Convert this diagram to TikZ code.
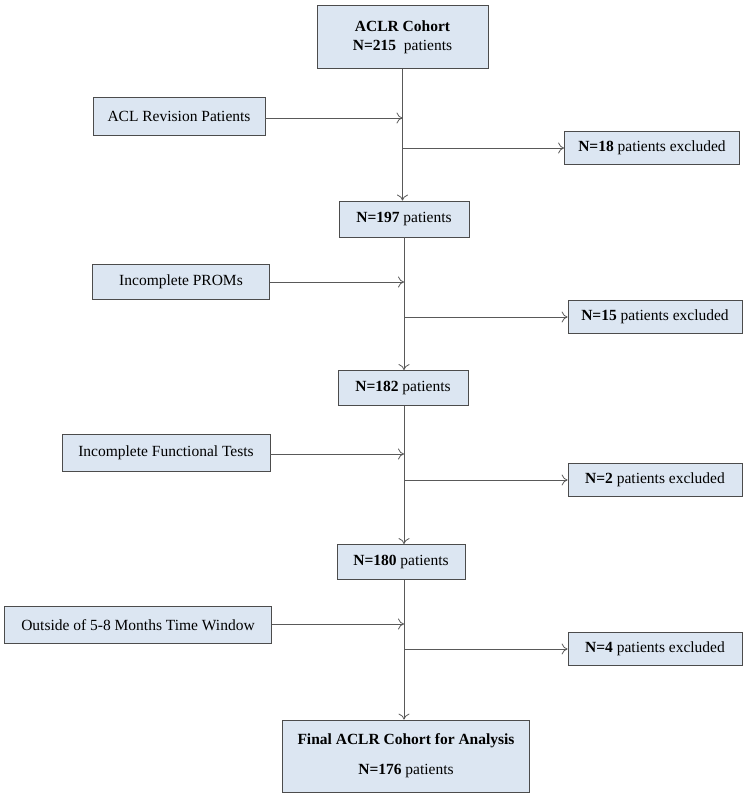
\documentclass[tikz,border=0pt]{standalone}
\usepackage{fontspec}
\setmainfont{Liberation Serif}
\usetikzlibrary{positioning,arrows.meta}
\definecolor{boxfill}{RGB}{220,230,242}
\begin{document}
\begin{tikzpicture}[x=1pt,y=-1pt,
  box/.style={draw=black!70,fill=boxfill,thick,inner sep=2pt,font=\fontsize{15.5}{18}\selectfont,align=center},
  flow/.style={draw=black!65,thick,-{To[length=6pt,width=11pt]}}]
  \useasboundingbox (0,0) rectangle (750,797);
  %main column
  \node[box,minimum width=171pt,minimum height=63pt] (c0) at (402.5,37) {\textbf{ACLR Cohort}\\[1pt]\textbf{N=215}\ \ patients};
  \node[box,minimum width=130pt,minimum height=36pt] (c1) at (404,219) {\textbf{N=197} patients};
  \node[box,minimum width=130pt,minimum height=35pt] (c2) at (403,388) {\textbf{N=182} patients};
  \node[box,minimum width=128pt,minimum height=35pt] (c3) at (401,562) {\textbf{N=180} patients};
  \node[box,minimum width=247pt,minimum height=72pt] (c4) at (406,756) {\textbf{Final ACLR Cohort for Analysis}\\[12pt]\textbf{N=176} patients};
  %reasons
  \node[box,minimum width=172pt,minimum height=38pt] (r1) at (179,116) {ACL Revision Patients};
  \node[box,minimum width=177pt,minimum height=35pt] (r2) at (181,282) {Incomplete PROMs};
  \node[box,minimum width=208pt,minimum height=37pt] (r3) at (166,453) {Incomplete Functional Tests};
  \node[box,minimum width=267pt,minimum height=37pt] (r4) at (138,625) {Outside of 5-8 Months Time Window};
  %excluded
  \node[box,minimum width=175pt,minimum height=33pt] (e1) at (652,148) {\textbf{N=18} patients excluded};
  \node[box,minimum width=174pt,minimum height=33pt] (e2) at (655,317) {\textbf{N=15} patients excluded};
  \node[box,minimum width=174pt,minimum height=33pt] (e3) at (655,480) {\textbf{N=2} patients excluded};
  \node[box,minimum width=174pt,minimum height=33pt] (e4) at (655,649) {\textbf{N=4} patients excluded};
  %junctions
  \coordinate (j1) at (402.5,118); \coordinate (k1) at (402.5,148);
  \coordinate (j2) at (404,282); \coordinate (k2) at (404,317);
  \coordinate (j3) at (404,454); \coordinate (k3) at (404,480);
  \coordinate (j4) at (404,624); \coordinate (k4) at (404,649);
  \draw[flow] (c0) -- (c0 |- c1.north);
  \draw[flow] (c1) -- (c1 |- c2.north);
  \draw[flow] (c2.south -| j3) -- (j3 |- c3.north);
  \draw[flow] (c3.south -| j4) -- (j4 |- c4.north);
  \draw[flow] (r1.east |- j1) -- (j1);
  \draw[flow] (r2.east |- j2) -- (j2);
  \draw[flow] (r3.east |- j3) -- (j3);
  \draw[flow] (r4.east |- j4) -- (j4);
  \draw[flow] (k1) -- (e1);
  \draw[flow] (k2) -- (e2);
  \draw[flow] (k3) -- (e3);
  \draw[flow] (k4) -- (e4);
\end{tikzpicture}
\end{document}
